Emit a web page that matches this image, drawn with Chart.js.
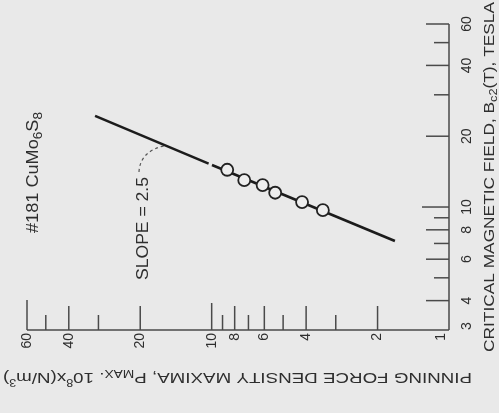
<!DOCTYPE html>
<html>
<head>
<meta charset="utf-8">
<script src="https://cdn.jsdelivr.net/npm/chart.js@4.4.1/dist/chart.umd.min.js"></script>
<style>
  html, body { margin: 0; padding: 0; background: #e9e9e9; }
  canvas { display: block; }
</style>
</head>
<body>
<canvas id="c" width="499" height="413"></canvas>
<script>
// ---- data ----
// x: pinning force density maxima P_MAX (10^8 N/m^3), y: critical field Bc2 (T)
const markerP = [8.6, 7.29, 6.10, 5.40, 4.16, 3.40];
const markerB = [14.4, 13.0, 12.4, 11.5, 10.5, 9.7];
// fitted line (drawn as two pieces with a tiny break)
const line1P = [31.0, 10.3];
const line1B = [24.4, 15.3];
const line2P = [9.97, 1.69];
const line2B = [15.1, 7.17];
// axis ticks
const pTicks = [60, 50, 40, 30, 20, 10, 9, 8, 7, 6, 5, 4, 3, 2, 1];
const pLabels = [60, 40, 20, 10, 8, 6, 4, 2, 1];
const bTicks = [3, 4, 5, 6, 7, 8, 9, 10, 20, 30, 40, 50, 60];
const bLabels = [3, 4, 6, 8, 10, 20, 40, 60];
const sampleLabel = "#181 CuMo6S8";
const slopeLabel = "SLOPE = 2.5";

const FAMILY = '"Liberation Sans", Arial, sans-serif';
const INK = '#2e2e2e';

function toXY(xs, ys) { return xs.map((v, i) => ({ x: v, y: ys[i] })); }

function drawRich(ctx, segs, x, y, angle, targetLen) {
  ctx.save();
  ctx.translate(x, y);
  ctx.rotate(angle);
  let total = 0;
  segs.forEach(s => {
    ctx.font = s.size + 'px ' + FAMILY;
    s.w = ctx.measureText(s.t).width;
    total += s.w;
  });
  const sx = targetLen ? targetLen / total : 1;
  ctx.scale(sx, 1);
  ctx.textAlign = 'left';
  ctx.textBaseline = 'alphabetic';
  ctx.fillStyle = INK;
  let cx = 0;
  segs.forEach(s => {
    ctx.font = s.size + 'px ' + FAMILY;
    ctx.fillText(s.t, cx, s.dy || 0);
    cx += s.w;
  });
  ctx.restore();
}

const axesPlugin = {
  id: 'rotAxes',
  beforeDatasetsDraw(chart) {
    const ctx = chart.ctx;
    const xs = chart.scales.x, ys = chart.scales.y;
    const yb = ys.getPixelForValue(3);
    const yt = ys.getPixelForValue(60);
    const xl = xs.getPixelForValue(60);
    const xr = xs.getPixelForValue(1);
    ctx.save();
    ctx.strokeStyle = '#4a4a4a';
    ctx.lineWidth = 1.5;
    // bottom axis (P_MAX)
    ctx.beginPath();
    ctx.moveTo(xl, yb); ctx.lineTo(xr, yb);
    // right axis (Bc2)
    ctx.moveTo(xr, yb); ctx.lineTo(xr, yt);
    ctx.stroke();
    // bottom ticks pointing up
    pTicks.forEach(v => {
      if (v === 1) return;
      const px = xs.getPixelForValue(v);
      let len = pLabels.includes(v) ? 24 : 15;
      if (v === 60) len = 30;
      if (v === 10) len = 27;
      ctx.beginPath();
      ctx.moveTo(px, yb); ctx.lineTo(px, yb - len);
      ctx.stroke();
    });
    // right ticks pointing left
    bTicks.forEach(v => {
      if (v === 3) return;
      const py = ys.getPixelForValue(v);
      let len = bLabels.includes(v) ? 23 : 15;
      if (v === 10) len = 27;
      ctx.beginPath();
      ctx.moveTo(xr, py); ctx.lineTo(xr - len, py);
      ctx.stroke();
    });
    ctx.restore();

    // tick labels (rotated, reading bottom-to-top)
    ctx.save();
    ctx.fillStyle = INK;
    ctx.font = '14px ' + FAMILY;
    pLabels.forEach(v => {
      let px = xs.getPixelForValue(v);
      if (v === 1) px -= 8;
      ctx.save();
      ctx.translate(px, yb + 3);
      ctx.rotate(-Math.PI / 2);
      ctx.textAlign = 'right';
      ctx.textBaseline = 'middle';
      ctx.fillText(String(v), 0, 0);
      ctx.restore();
    });
    bLabels.forEach(v => {
      let py = ys.getPixelForValue(v);
      if (v === 3) py -= 4;
      ctx.save();
      ctx.translate(xr + 18, py);
      ctx.rotate(-Math.PI / 2);
      ctx.textAlign = 'center';
      ctx.textBaseline = 'middle';
      ctx.fillText(String(v), 0, 0);
      ctx.restore();
    });
    ctx.restore();

    // axis titles
    drawRich(ctx, [
      { t: 'CRITICAL MAGNETIC FIELD, B', size: 15 },
      { t: 'c2', size: 11, dy: 3 },
      { t: '(T), TESLA', size: 15 }
    ], xr + 45, 352, -Math.PI / 2, 350);
    drawRich(ctx, [
      { t: 'PINNING FORCE DENSITY MAXIMA, P', size: 15 },
      { t: 'MAX', size: 11, dy: 3 },
      { t: '. 10', size: 15 },
      { t: '8', size: 10, dy: -6 },
      { t: 'x(N/m', size: 15 },
      { t: '3', size: 10, dy: -6 },
      { t: ')', size: 15 }
    ], 472, 373, Math.PI, 469);

    // annotations
    drawRich(ctx, [
      { t: '#181 CuMo', size: 16 },
      { t: '6', size: 12, dy: 4 },
      { t: 'S', size: 16 },
      { t: '8', size: 12, dy: 4 }
    ], 38, 233, -Math.PI / 2, 121);
    drawRich(ctx, [{ t: slopeLabel, size: 16 }], 148, 280, -Math.PI / 2, 103);

    // dashed leader from slope label to the line
    const a = { x: xs.getPixelForValue(line1P[0]), y: ys.getPixelForValue(line1B[0]) };
    const b = { x: xs.getPixelForValue(line1P[1]), y: ys.getPixelForValue(line1B[1]) };
    const t = 0.62;
    const ex = a.x + (b.x - a.x) * t, ey = a.y + (b.y - a.y) * t;
    ctx.save();
    ctx.strokeStyle = '#555';
    ctx.lineWidth = 1.2;
    ctx.setLineDash([3, 3]);
    ctx.beginPath();
    ctx.moveTo(139, 172);
    ctx.quadraticCurveTo(140, 151, ex, ey);
    ctx.stroke();
    ctx.restore();
  }
};

new Chart(document.getElementById('c').getContext('2d'), {
  type: 'scatter',
  data: {
    datasets: [
      {
        data: toXY(markerP, markerB),
        showLine: false,
        pointRadius: 6,
        pointBorderWidth: 1.8,
        pointBorderColor: '#222',
        pointBackgroundColor: '#eeeeee',
        order: 0
      },
      {
        data: toXY(line1P, line1B),
        showLine: true,
        borderColor: '#1c1c1c',
        borderWidth: 2.6,
        pointRadius: 0,
        order: 1
      },
      {
        data: toXY(line2P, line2B),
        showLine: true,
        borderColor: '#1c1c1c',
        borderWidth: 2.6,
        pointRadius: 0,
        order: 1
      }
    ]
  },
  options: {
    responsive: false,
    animation: false,
    devicePixelRatio: 1,
    layout: { padding: { left: 27, right: 50, top: 24, bottom: 83 } },
    scales: {
      x: { type: 'logarithmic', reverse: true, min: 1, max: 60, display: false },
      y: { type: 'logarithmic', min: 3, max: 60, display: false }
    },
    plugins: { legend: { display: false }, tooltip: { enabled: false } }
  },
  plugins: [axesPlugin]
});
</script>
</body>
</html>
